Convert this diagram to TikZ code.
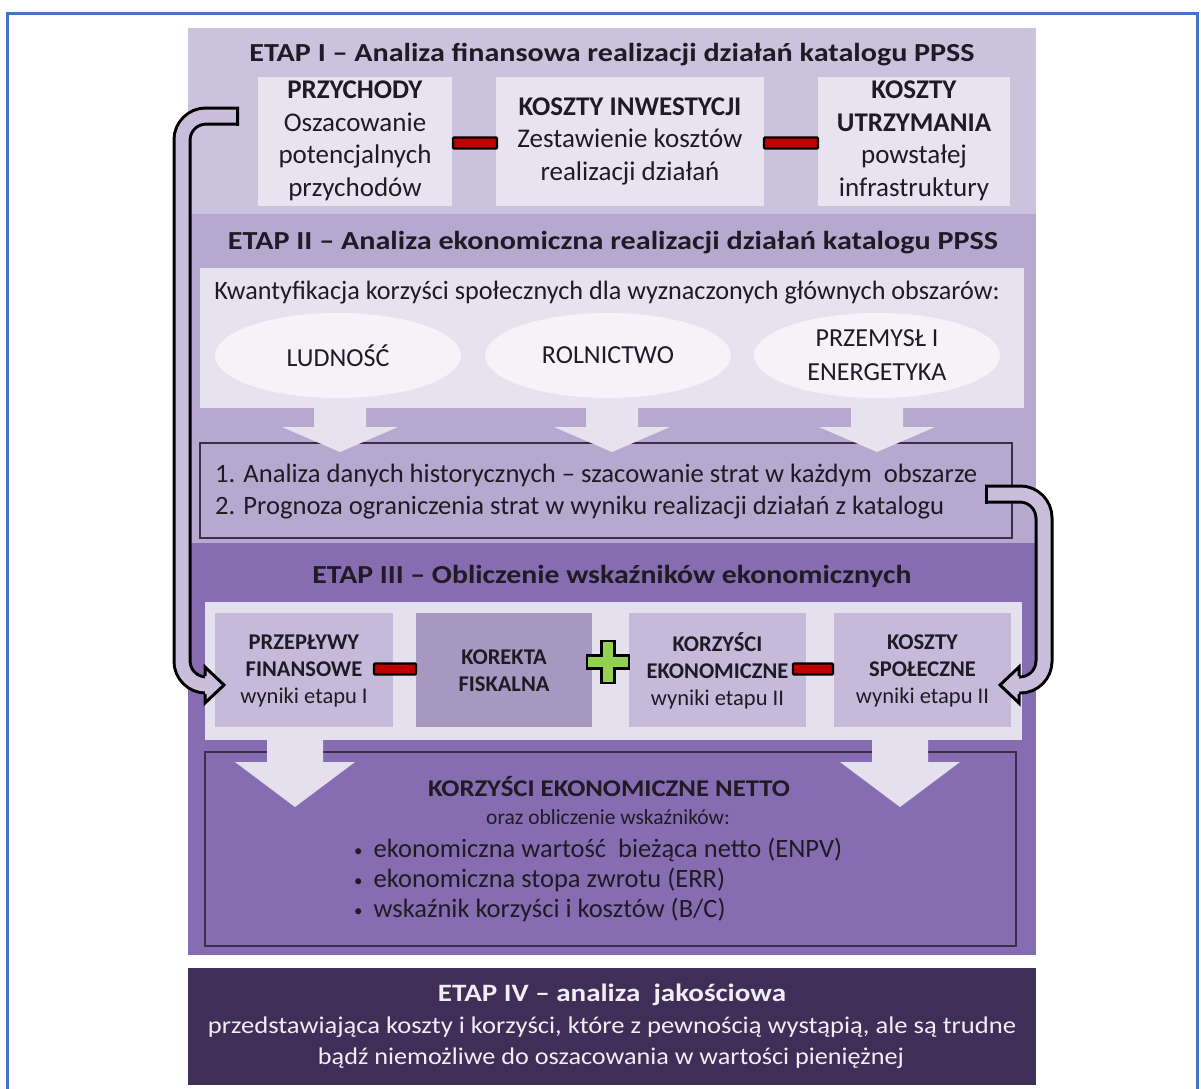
\documentclass[tikz,border=0pt]{standalone}
\usepackage{fontspec}
\setmainfont{Carlito}
\usetikzlibrary{shapes.geometric,calc}
\definecolor{pI}{HTML}{CBC2DD}
\definecolor{boxI}{HTML}{E8E4EF}
\definecolor{pII}{HTML}{B7A8D0}
\definecolor{lightII}{HTML}{E6E2EE}
\definecolor{ellc}{HTML}{F5F3F8}
\definecolor{pIII}{HTML}{866CB0}
\definecolor{lightIII}{HTML}{E5E0ED}
\definecolor{boxIII}{HTML}{C5BADA}
\definecolor{korc}{HTML}{A698C0}
\definecolor{pIV}{HTML}{3F2E58}
\definecolor{txt}{HTML}{1F1A24}
\definecolor{txtIV}{HTML}{F0EDF3}
\definecolor{arrfill}{HTML}{C9BFDD}
\definecolor{minusred}{HTML}{C00000}
\definecolor{plusgreen}{HTML}{92D050}
\definecolor{bordblue}{HTML}{4472C4}
\definecolor{edge}{HTML}{3A2E4A}
\newcommand\fw[2]{\resizebox{#1pt}{\height}{#2}}
\newcommand\fsz[1]{\fontsize{#1}{#1}\selectfont}
\newcommand\blt{{\fsz{17}\raisebox{1pt}{•}}\hspace{11pt}}
\begin{document}
\begin{tikzpicture}[x=1pt,y=-1pt,
  rect/.style={inner sep=0pt, outer sep=0pt, draw=none},
  minusbar/.style={draw=black, line width=2.2pt, fill=minusred, minimum height=11pt, inner sep=0pt, rounded corners=1pt},
  titletext/.style={inner sep=0pt, text=txt, font=\fsz{26}\bfseries},
  boxtext/.style={inner sep=0pt, text=txt, align=center, font=\fontsize{27}{32.5}\selectfont},
  smalltext/.style={inner sep=0pt, text=txt, align=center, font=\fontsize{22.5}{27}\selectfont},
  bodytext/.style={inner sep=0pt, text=txt, font=\fsz{26.5}},
  ell/.style={ellipse, fill=ellc, minimum width=246pt, minimum height=85pt, inner sep=0pt, text=txt, align=center, font=\fontsize{26}{34}\selectfont},
  curvarrow/.style={line width=3pt, double=arrfill, double distance=13pt, rounded corners=24pt},
  headout/.style={line width=3pt, line join=miter, line cap=butt}
]
\useasboundingbox (0,0) rectangle (1201,1088);
% outer blue frame
\draw[bordblue, line width=3pt] (7,13) rectangle (1197,1110);

% ---------- ETAP I ----------
\node[rect, fill=pI, minimum width=848pt, minimum height=186pt] (etap1) at (612,121) {};
\node[titletext] (t1) at (612,55) {\fw{725}{ETAP I – Analiza finansowa realizacji działań katalogu PPSS}};
\node[rect, fill=boxI, minimum width=194pt, minimum height=129pt] (przych) at (355,141) {};
\node[rect, fill=boxI, minimum width=268pt, minimum height=129pt] (inwest) at (630,141) {};
\node[rect, fill=boxI, minimum width=192pt, minimum height=129pt] (utrzym) at (914,141) {};
\node[boxtext] at (przych) {\textbf{PRZYCHODY}\\Oszacowanie\\potencjalnych\\przychodów};
\node[boxtext] at (inwest) {\textbf{KOSZTY INWESTYCJI}\\Zestawienie kosztów\\realizacji działań};
\node[boxtext] at (utrzym) {\textbf{KOSZTY}\\\textbf{UTRZYMANIA}\\powstałej\\infrastruktury};
\node[minusbar, minimum width=44pt] (m1) at (475,143) {};
\node[minusbar, minimum width=54pt] (m2) at (791,143) {};

% ---------- ETAP II ----------
\node[rect, fill=pII, minimum width=848pt, minimum height=329pt] (etap2) at (612,378.5) {};
\node[titletext] (t2) at (613,243) {\fw{770}{ETAP II – Analiza ekonomiczna realizacji działań katalogu PPSS}};
\node[rect, fill=lightII, minimum width=824pt, minimum height=140pt] (kwant) at (612,338) {};
\node[bodytext] (kwt) at (607,293) {\fw{785}{Kwantyfikacja korzyści społecznych dla wyznaczonych głównych obszarów:}};
\node[ell] (lud) at (338,355.5) {LUDNOŚĆ};
\node[ell] (rol) at (608,355.5) {ROLNICTWO};
\node[ell] (prz) at (877,355.5) {PRZEMYSŁ I\\ENERGETYKA};
\node[rect, draw=edge, line width=1.3pt, fill=pII, minimum width=812pt, minimum height=95pt] (anal) at (606,490.5) {};
\foreach \cx in {340,612,877}{
  \fill[lightII] (\cx-26,406) -- (\cx+26,406) -- (\cx+26,427) -- (\cx+58,427) -- (\cx,452) -- (\cx-58,427) -- (\cx-26,427) -- cycle;
}
\node[bodytext, anchor=west] (a1) at (215,475) {\fw{762}{1. Analiza danych historycznych – szacowanie strat w każdym\ \ obszarze}};
\node[bodytext, anchor=west] (a2) at (215,508) {\fw{729}{2. Prognoza ograniczenia strat w wyniku realizacji działań z katalogu}};

% ---------- ETAP III ----------
\node[rect, fill=pIII, minimum width=848pt, minimum height=412pt] (etap3) at (612,749) {};
\node[titletext] (t3) at (612,576) {\fw{599}{ETAP III – Obliczenie wskaźników ekonomicznych}};
\node[rect, fill=lightIII, minimum width=817pt, minimum height=138pt] (l3) at (613.5,671) {};
\node[rect, fill=boxIII, minimum width=178pt, minimum height=114pt] (przep) at (304,670) {};
\node[rect, fill=korc, minimum width=176pt, minimum height=114pt] (korek) at (504,670) {};
\node[rect, fill=boxIII, minimum width=177pt, minimum height=114pt] (korzy) at (717.5,670) {};
\node[rect, fill=boxIII, minimum width=177pt, minimum height=114pt] (spol) at (922.5,670) {};
\node[smalltext] at (304,671) {\textbf{PRZEPŁYWY}\\\textbf{FINANSOWE}\\wyniki etapu I};
\node[smalltext] at (504,671) {\textbf{KOREKTA}\\\textbf{FISKALNA}};
\node[smalltext] at (717.5,671) {\textbf{KORZYŚCI}\\\textbf{EKONOMICZNE}\\wyniki etapu II};
\node[smalltext] at (922.5,671) {\textbf{KOSZTY}\\\textbf{SPOŁECZNE}\\wyniki etapu II};
\node[minusbar, minimum width=42pt] (m3) at (395,669) {};
\node[minusbar, minimum width=40pt] (m4) at (813,669) {};
\coordinate (plusc) at (608,662);
\filldraw[fill=plusgreen, draw=black, line width=2.2pt, line join=miter]
  ($(plusc)+(-6.5,-21)$) -- ($(plusc)+(6.5,-21)$) -- ($(plusc)+(6.5,-6.5)$) -- ($(plusc)+(21,-6.5)$) --
  ($(plusc)+(21,6.5)$) -- ($(plusc)+(6.5,6.5)$) -- ($(plusc)+(6.5,21)$) -- ($(plusc)+(-6.5,21)$) --
  ($(plusc)+(-6.5,6.5)$) -- ($(plusc)+(-21,6.5)$) -- ($(plusc)+(-21,-6.5)$) -- ($(plusc)+(-6.5,-6.5)$) -- cycle;

\node[rect, draw=edge, line width=1.3pt, fill=pIII, minimum width=811pt, minimum height=194pt] (netto) at (610.5,849) {};
\foreach \cx in {295,900}{
  \fill[lightIII] (\cx-28,739) -- (\cx+28,739) -- (\cx+28,762) -- (\cx+60,762) -- (\cx,807) -- (\cx-60,762) -- (\cx-28,762) -- cycle;
}
\node[inner sep=0pt, text=txt, font=\fsz{24}\bfseries] (nt) at (609,786) {\fw{362}{KORZYŚCI EKONOMICZNE NETTO}};
\node[inner sep=0pt, text=txt, font=\fsz{21.5}] (nt2) at (608,817) {oraz obliczenie wskaźników:};
\node[bodytext, anchor=west] (b1) at (354,850) {\blt ekonomiczna wartość\ \ bieżąca netto (ENPV)};
\node[bodytext, anchor=west] (b2) at (354,880) {\blt ekonomiczna stopa zwrotu (ERR)};
\node[bodytext, anchor=west] (b3) at (354,910) {\blt wskaźnik korzyści i kosztów (B/C)};

% ---------- ETAP IV ----------
\node[rect, fill=pIV, minimum width=848pt, minimum height=117pt] (etap4) at (612,1026.5) {};
\node[inner sep=0pt, text=txtIV, font=\fsz{25}\bfseries] (t4) at (612,995) {\fw{348}{ETAP IV – analiza\ \ jakościowa}};
\node[inner sep=0pt, text=txtIV, font=\fsz{24}] (t4a) at (612,1027) {\fw{808}{przedstawiająca koszty i korzyści, które z pewnością wystąpią, ale są trudne}};
\node[inner sep=0pt, text=txtIV, font=\fsz{24}] (t4b) at (611,1058) {\fw{586}{bądź niemożliwe do oszacowania w wartości pieniężnej}};

% ---------- curved connectors ----------
\coordinate (ls) at (239,116);
\coordinate (lc1) at (182,116);
\coordinate (lc2) at (182,685);
\coordinate (le) at (207,685);
\draw[curvarrow] (ls) -- (lc1) -- (lc2) -- (le);
\draw[line width=3pt] (237.5,106.5) -- (237.5,125.5);
\fill[arrfill] (205,667) -- (224,685) -- (205,703) -- cycle;
\draw[headout] (205,676) -- (205,667) -- (224,685) -- (205,703) -- (205,694);

\coordinate (rs) at (985,494);
\coordinate (rc1) at (1044,494);
\coordinate (rc2) at (1044,685);
\coordinate (re) at (1017,685);
\draw[curvarrow] (rs) -- (rc1) -- (rc2) -- (re);
\draw[line width=3pt] (986.5,484.5) -- (986.5,503.5);
\fill[arrfill] (1019,667) -- (1000,685) -- (1019,703) -- cycle;
\draw[headout] (1019,676) -- (1019,667) -- (1000,685) -- (1019,703) -- (1019,694);
\end{tikzpicture}
\end{document}
